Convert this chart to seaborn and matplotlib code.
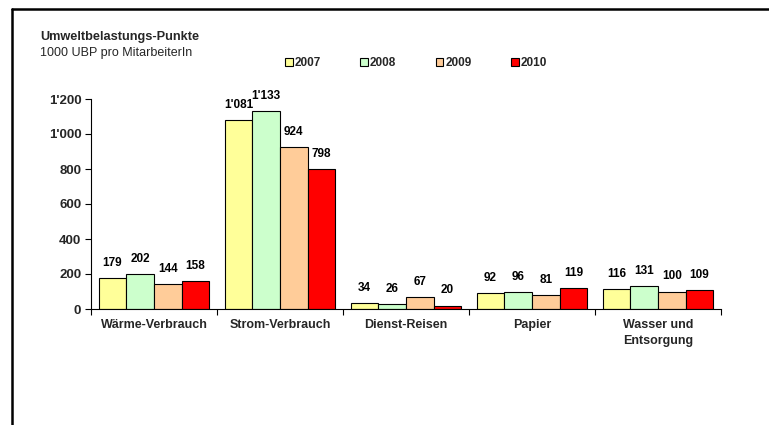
import matplotlib
matplotlib.use("Agg")
import matplotlib.pyplot as plt
import seaborn as sns
import pandas as pd
from matplotlib.lines import Line2D
from matplotlib.ticker import FuncFormatter

categories = ["Wärme-Verbrauch", "Strom-Verbrauch", "Dienst-Reisen", "Papier", "Wasser und\nEntsorgung"]
years = ["2007", "2008", "2009", "2010"]
v2007 = [179, 1081, 34, 92, 116]
v2008 = [202, 1133, 26, 96, 131]
v2009 = [144, 924, 67, 81, 100]
v2010 = [158, 798, 20, 119, 109]
colors = ["#FFFF99", "#CCFFCC", "#FFCC99", "#FF0000"]

rows = []
for y, vals in zip(years, [v2007, v2008, v2009, v2010]):
    for c, v in zip(categories, vals):
        rows.append({"cat": c, "year": y, "val": v})
df = pd.DataFrame(rows)

sns.set_theme(style="white")
plt.rcParams["font.family"] = ["Liberation Sans", "DejaVu Sans"]

fig = plt.figure(figsize=(7.69, 4.25), dpi=100)
ax = fig.add_axes([91/769, 1-309/425, (721-91)/769, (309-99)/425])

sns.barplot(data=df, x="cat", y="val", hue="year", order=categories, hue_order=years,
            palette=colors, width=0.88, gap=0, edgecolor="black", linewidth=0.8,
            saturation=1, errorbar=None, ax=ax, legend=True)

def fmt(v):
    s = f"{int(round(v)):,}".replace(",", "'")
    return s

for cont in ax.containers:
    ax.bar_label(cont, labels=[fmt(b.get_height()) for b in cont], padding=6.5,
                 fontsize=8.5, fontweight="bold", color="black")

ax.set_ylim(0, 1200)
ax.set_xlim(-0.5, len(categories) - 0.5)
ax.set_yticks([0, 200, 400, 600, 800, 1000, 1200])
ax.yaxis.set_major_formatter(FuncFormatter(lambda v, p: fmt(v)))
ax.tick_params(axis="y", labelsize=9.5, length=4, width=0.8, color="black", left=True, pad=3)
for t in ax.get_yticklabels():
    t.set_fontweight("bold")

ax.set_xticks([i - 0.5 for i in range(len(categories) + 1)])
ax.set_xticklabels([])
ax.set_xticks(range(len(categories)), minor=True)
ax.set_xticklabels(categories, minor=True, fontsize=9, fontweight="bold", linespacing=1.45)
ax.tick_params(axis="x", which="major", length=4, width=0.8, color="black", bottom=True)
ax.tick_params(axis="x", which="minor", length=0, pad=7)

for s in ["top", "right"]:
    ax.spines[s].set_visible(False)
for s in ["left", "bottom"]:
    ax.spines[s].set_color("black")
    ax.spines[s].set_linewidth(0.8)
ax.set_xlabel("")
ax.set_ylabel("")

leg = ax.legend(loc="center", bbox_to_anchor=(416/769, 1-63/425), bbox_transform=fig.transFigure,
                ncol=4, frameon=False, prop={"size": 8.5, "weight": "bold"},
                handlelength=0.65, handleheight=0.65, handletextpad=0.15, columnspacing=3.35)
for h in leg.legend_handles:
    h.set_edgecolor("black")
    h.set_linewidth(0.8)

fig.text(40/769, 1-37/425, "Umweltbelastungs-Punkte", fontsize=9.2, fontweight="bold", va="center", ha="left")
fig.text(40/769, 1-53/425, "1000 UBP pro MitarbeiterIn", fontsize=9, va="center", ha="left")

fig.add_artist(Line2D([12/769, 1.0], [1-9/425, 1-9/425], color="black", lw=1.8, transform=fig.transFigure))
fig.add_artist(Line2D([12/769, 12/769], [0, 1-9/425], color="black", lw=1.8, transform=fig.transFigure))

fig.savefig("out.png", dpi=100)
